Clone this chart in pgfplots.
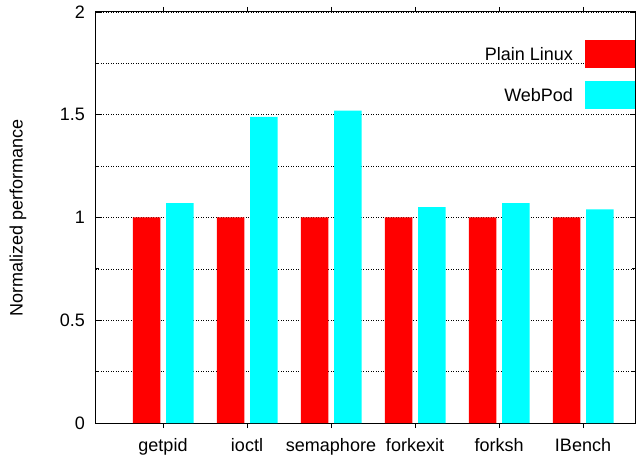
\documentclass[border=0pt]{standalone}
\usepackage{pgfplots}
\pgfplotsset{compat=1.18}
\usepackage{fontspec}
\setmainfont{Liberation Sans}
\definecolor{gpred}{RGB}{255,0,0}
\definecolor{gpcyan}{RGB}{0,255,255}
\begin{document}
\fontsize{18bp}{22bp}\selectfont
\begin{tikzpicture}
\useasboundingbox (-96bp,-33bp) rectangle (540bp,423bp);
\begin{axis}[
  scale only axis,
  width=539bp, height=411bp,
  xmin=0.2024, xmax=6.619,
  ymin=0, ymax=2,
  xtick={1,2,3,4,5,6},
  xticklabels={getpid,ioctl,semaphore,forkexit,forksh,IBench},
  ytick={0,0.5,1,1.5,2},
  yticklabels={0,0.5,1,1.5,2},
  minor ytick={0.25,0.75,1.25,1.75},
  ymajorgrids, yminorgrids,
  major grid style={black, line width=0.5bp, dash pattern=on 1bp off 1.5bp},
  minor grid style={black, line width=0.5bp, dash pattern=on 1bp off 1.5bp},
  major tick length=5bp, minor tick length=3bp,
  tick style={black, line width=0.8bp},
  axis line style={black, line width=1bp},
  tick align=inside,
  /pgf/number format/assume math mode=true,
  tick label style={font=\fontsize{18bp}{22bp}\selectfont},
  yticklabel style={xshift=-5bp},
  xticklabel style={yshift=-4bp},
  ylabel={Normalized performance},
  ylabel style={font=\fontsize{18bp}{22bp}\selectfont, at={(axis description cs:-0.1447,0.5)}, anchor=center},
  ybar, bar width=0.327,
  legend plot pos=right,
  legend cell align=right,
  legend style={draw=none, fill=none, inner sep=0pt, outer sep=0pt,
    at={(axis description cs:1,0.932)}, anchor=north east,
    row sep=13bp, column sep=12bp,
    nodes={inner sep=0pt, font=\fontsize{18bp}{22bp}\selectfont}},
]
\addplot[fill=gpred, draw=none, bar shift=-0.196,
  legend image code/.code={\fill[gpred] (0bp,-12.5bp) rectangle (50bp,15.5bp);}]
  coordinates {(1,1) (2,1) (3,1) (4,1) (5,1) (6,1)};
\addlegendentry{Plain Linux}
\addplot[fill=gpcyan, draw=none, bar shift=0.2,
  legend image code/.code={\fill[gpcyan] (0bp,-12.5bp) rectangle (50bp,15.5bp);}]
  coordinates {(1,1.07) (2,1.49) (3,1.52) (4,1.05) (5,1.07) (6,1.04)};
\addlegendentry{WebPod}
\end{axis}
\end{tikzpicture}
\end{document}
